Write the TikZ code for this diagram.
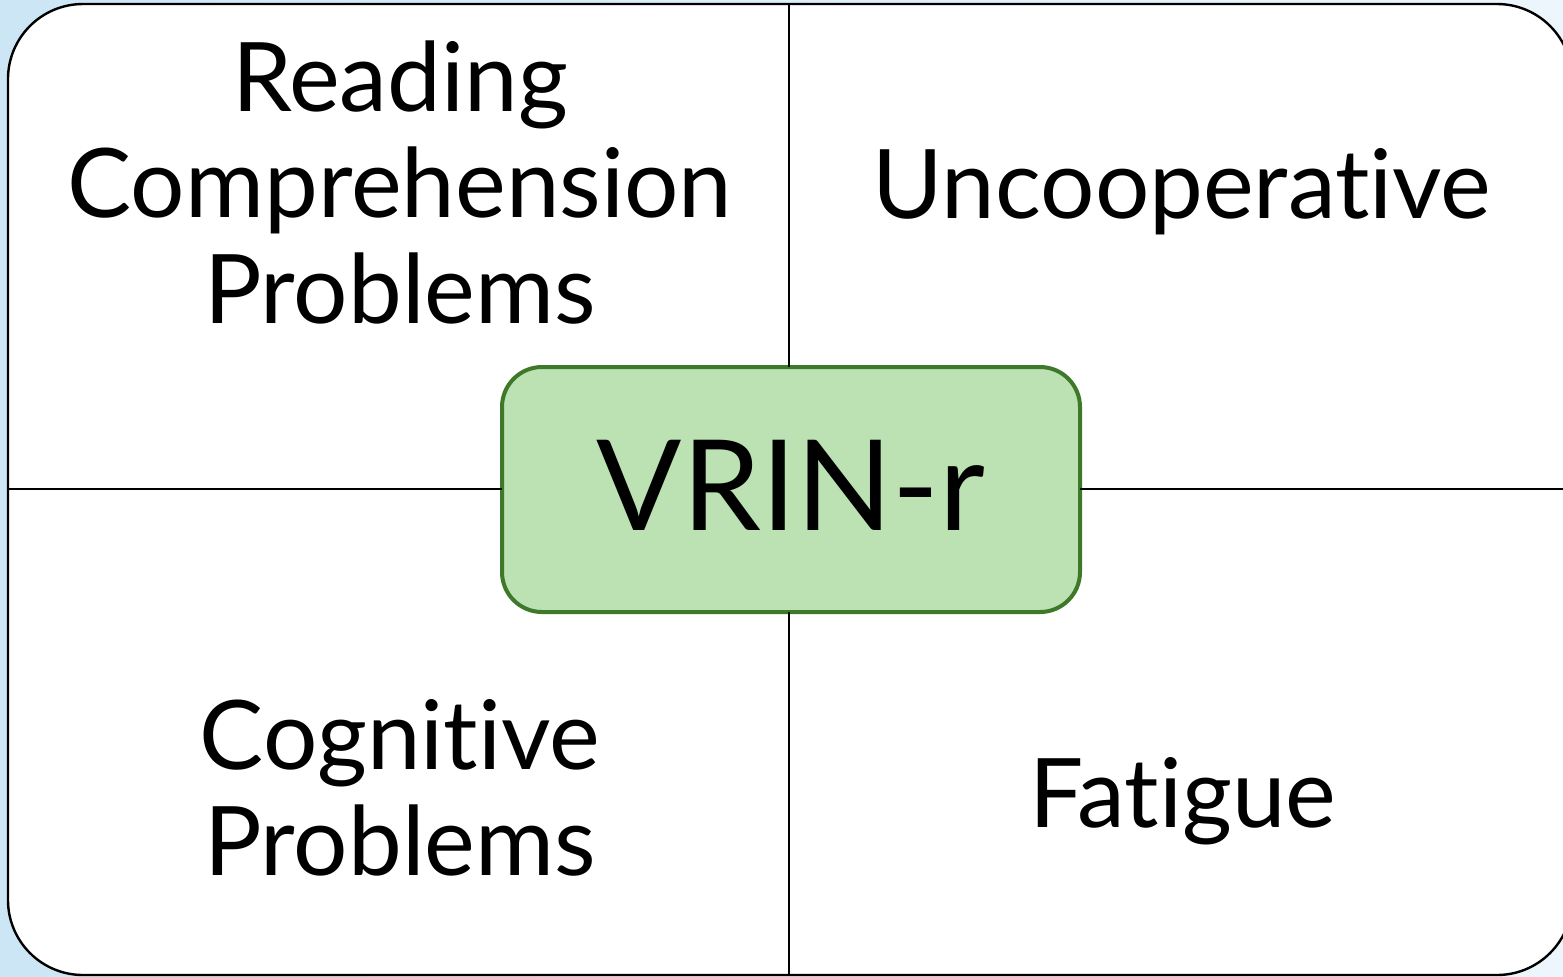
\documentclass[tikz,border=0pt]{standalone}
\usepackage{fontspec}
\setmainfont{Lato}[Ligatures={NoCommon,NoRare}]
\definecolor{bgleft}{RGB}{204,230,246}
\definecolor{bgright}{RGB}{236,246,252}
\definecolor{vfill}{RGB}{188,225,179}
\definecolor{vdraw}{RGB}{62,121,42}
\tikzset{
  frame/.style={draw=black, line width=1.2pt, fill=white, rounded corners=37.5pt},
  divider/.style={draw=black, line width=1pt},
  quad/.style={align=center, font=\fontsize{48}{53}\selectfont, inner sep=0pt, anchor=base},
  centerbox/.style={draw=vdraw, fill=vfill, line width=2pt, rounded corners=20pt}
}
\begin{document}
\begin{tikzpicture}[x=0.5pt,y=-0.5pt]
\useasboundingbox (0,0) rectangle (1563,976);
\clip (0,0) rectangle (1563,976);
\shade[left color=bgleft, right color=bgright] (0,0) rectangle (1563,976);
\draw[frame] (8,4) rectangle (1572,975);
\coordinate (ftop) at (789,4);
\coordinate (fbot) at (789,975);
\coordinate (fleft) at (8,489);
\coordinate (fright) at (1572,489);
\draw[centerbox] (502,367) rectangle (1080,612);
\node[inner sep=0pt, minimum width=289pt, minimum height=122.5pt] (vrin) at (791,489.5) {};
\node[font=\fontsize{63}{70}\selectfont, inner sep=0pt, anchor=base] (vt) at (791,530) {VRIN-r};
\draw[divider] (ftop) -- (vrin.north -| ftop);
\draw[divider] (vrin.south -| fbot) -- (fbot);
\draw[divider] (fleft) -- (vrin.west |- fleft);
\draw[divider] (vrin.east |- fright) -- (fright);
\node[quad] (rcp) at (400,323) {Reading\\Comprehension\\Problems};
\node[quad] (unc) at (1182,218) {Uncooperative};
\node[quad] (cog) at (400,875) {Cognitive\\Problems};
\node[quad] (fat) at (1183,827) {Fatigue};
\end{tikzpicture}
\end{document}
